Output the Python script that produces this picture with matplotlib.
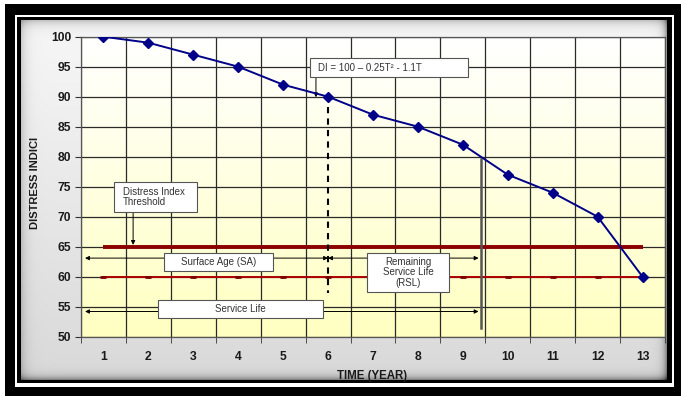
import numpy as np
import matplotlib
matplotlib.use("Agg")
import matplotlib.pyplot as plt
from matplotlib.patches import Rectangle

plt.rcParams['font.family'] = ['Liberation Sans', 'DejaVu Sans']

# ---- data ----
years = [1, 2, 3, 4, 5, 6, 7, 8, 9, 10, 11, 12, 13]
distress_index = [100, 99, 97, 95, 92, 90, 87, 85, 82, 77, 74, 70, 60]
threshold_upper = [65] * 13
threshold_lower = [60] * 13
y_ticks = [50, 55, 60, 65, 70, 75, 80, 85, 90, 95, 100]
surface_age_end = 6.0
service_life_end = 9.35
equation_label = "DI = 100 \u2013 0.25T\u00b2 - 1.1T"

W, H = 681, 396
fig = plt.figure(figsize=(W / 100, H / 100), dpi=100)
fig.patch.set_facecolor('white')


def frect(x0, y0, x1, y1, **kw):
    # pixel coords (top-left origin) -> figure fraction
    r = Rectangle((x0 / W, 1 - y1 / H), (x1 - x0) / W, (y1 - y0) / H,
                  transform=fig.transFigure, **kw)
    fig.patches.append(r)


frect(5, 4, 681, 396, facecolor='black', edgecolor='none', zorder=-30)
frect(15, 15, 674, 387, facecolor='white', edgecolor='none', zorder=-29)
frect(17, 17, 672, 383, facecolor='black', edgecolor='none', zorder=-28)

# gray panel with inner shadow
px0, py0, px1, py1 = 21, 20, 667, 380
bg = fig.add_axes([px0 / W, 1 - py1 / H, (px1 - px0) / W, (py1 - py0) / H], zorder=-5)
hh, ww = py1 - py0, px1 - px0
yy, xx = np.mgrid[0:hh, 0:ww]
base = 0.97 - 0.12 * (yy / hh)
dl = xx; dr = ww - 1 - xx; dt = yy; db = hh - 1 - yy
shade = (0.45 * np.exp(-dt / 5.0) + 0.35 * np.exp(-dl / 5.0)
         + 0.75 * np.exp(-dr / 3.5) + 0.75 * np.exp(-db / 3.5))
val = np.clip(base - 0.45 * shade, 0, 1)
bg.imshow(np.dstack([val, val, val]), aspect='auto', interpolation='bilinear')
bg.axis('off')

# main axes
L, R, T, B = 81, 665, 36.7, 336.7
ax = fig.add_axes([L / W, 1 - B / H, (R - L) / W, (B - T) / H], zorder=1)
ax.set_xlim(0.5, 13.5)
ax.set_ylim(50, 100)

grad = np.linspace(1, 0, 200)[:, None]
bgcol = np.dstack([np.ones_like(grad), np.ones_like(grad), 0.76 + 0.24 * grad])
ax.imshow(bgcol, extent=[0.5, 13.5, 50, 100], aspect='auto', zorder=0,
          interpolation='bilinear')

ax.set_xticks(years)
ax.set_xticklabels([str(v) for v in years], fontweight='bold', fontsize=8.7, color='#1a1a1a')
ax.set_xticks(np.arange(0.5, 14, 1), minor=True)
ax.tick_params(axis='x', which='major', length=0, pad=10)
ax.tick_params(axis='x', which='minor', length=4, direction='out', color='#333')
ax.set_yticks(y_ticks)
ax.set_yticklabels([str(v) for v in y_ticks], fontweight='bold', fontsize=8.7, color='#1a1a1a')
ax.tick_params(axis='y', length=4, direction='out', color='#333', pad=3)
ax.grid(True, which='minor', axis='x', color='#2a2a2a', lw=0.9, zorder=1)
ax.grid(True, which='major', axis='y', color='#2a2a2a', lw=0.9, zorder=1)
ax.grid(False, which='major', axis='x')
for s in ax.spines.values():
    s.set_color('#555555')
    s.set_linewidth(0.9)

# threshold lines
ax.plot(years, threshold_upper, color='#8b0000', lw=2.8, zorder=3,
        solid_capstyle='butt')
ax.plot(years, threshold_lower, color='#b00000', lw=1.4, zorder=3,
        marker='_', ms=5, mew=2, mec='#7a0000')

# vertical markers
ax.plot([surface_age_end, surface_age_end], [88.3, 57.3], color='black', lw=1.5,
        ls=(0, (3, 2.5)), zorder=4)
ax.plot([9.40, 9.40], [79.7, 51.4], color='#555555', lw=1.8, zorder=4)

# arrows
akw = dict(arrowstyle='<|-|>', color='black', lw=0.7, mutation_scale=6,
           shrinkA=0, shrinkB=0)
ax.annotate('', xy=(0.59, 63.1), xytext=(surface_age_end, 63.1), arrowprops=akw, zorder=4)
ax.annotate('', xy=(surface_age_end, 63.1), xytext=(service_life_end, 63.1), arrowprops=akw, zorder=4)
ax.annotate('', xy=(0.59, 54.2), xytext=(service_life_end, 54.2), arrowprops=akw, zorder=4)
skw = dict(arrowstyle='-|>', color='black', lw=0.7, mutation_scale=6, shrinkA=0, shrinkB=0)
ax.annotate('', xy=(5.73, 89.9), xytext=(5.73, 93.3), arrowprops=skw, zorder=4)
ax.annotate('', xy=(1.66, 65.3), xytext=(1.66, 70.8), arrowprops=skw, zorder=4)

# distress index series
ax.plot(years, distress_index, color='#000088', lw=1.4, marker='D', ms=4.8,
        mfc='#000088', mec='#000088', zorder=6)


def box(x0, x1, y0, y1, text, tx, ha='center', ls=1.05):
    ax.add_patch(Rectangle((x0, y0), x1 - x0, y1 - y0, facecolor='white',
                           edgecolor='#555555', lw=0.8, zorder=7))
    ax.text(tx, (y0 + y1) / 2, text, ha=ha, va='center', fontsize=7,
            color='#333333', zorder=8, linespacing=ls)


box(5.60, 9.12, 93.28, 96.45, equation_label, 5.78, ha='left')
box(1.235, 3.08, 70.78, 75.78, "Distress Index\nThreshold", 1.43, ha='left')
box(2.35, 4.77, 60.95, 63.95, "Surface Age (SA)", 3.56)
box(6.87, 8.69, 57.45, 63.95, "Remaining\nService Life\n(RSL)", 7.78)
box(2.21, 5.89, 53.1, 56.1, "Service Life", 4.05)

fig.text(35 / W, 1 - 183 / H, "DISTRESS INDICI", rotation=90, ha='center',
         va='center', fontsize=8, fontweight='bold', color='#1a1a1a', zorder=10)
fig.text(372 / W, 1 - 375.5 / H, "TIME (YEAR)", ha='center', va='center',
         fontsize=8.3, fontweight='bold', color='#1a1a1a', zorder=10)

fig.savefig('out.png', dpi=100)
